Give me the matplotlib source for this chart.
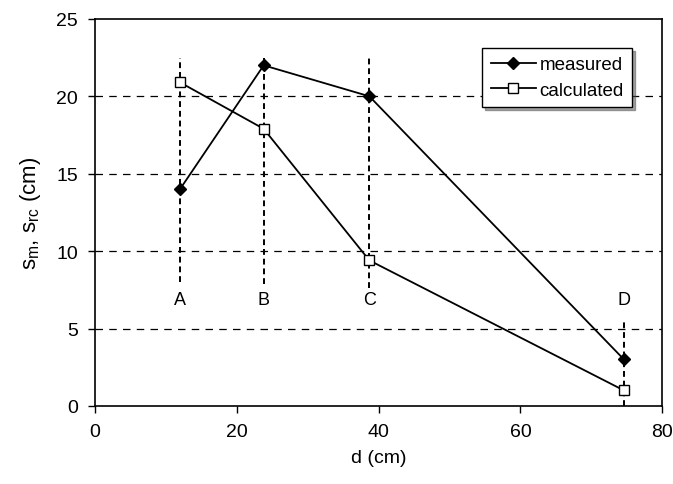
import matplotlib
matplotlib.use("Agg")
import matplotlib.pyplot as plt

plt.rcParams['font.family'] = ['Liberation Sans', 'DejaVu Sans']

d = [12.0, 23.8, 38.7, 74.6]
measured = [14.0, 22.0, 20.0, 3.0]
calculated = [20.9, 17.9, 9.4, 1.0]
labels = ["A", "B", "C", "D"]
vline_bottom = [8.0, 7.9, 7.6, 0.0]
vline_top = [22.5, 22.5, 22.5, 5.6]
label_y = [6.9, 6.9, 6.9, 6.9]

fig = plt.figure(figsize=(6.73, 4.85), dpi=100)
ax = fig.add_axes([0.141, 0.161, 0.843, 0.798])

for y in [5, 10, 15, 20]:
    ax.axhline(y, color='black', lw=0.9, ls=(0, (6, 5)), zorder=1)

for x, lo, hi, lab, ly in zip(d, vline_bottom, vline_top, labels, label_y):
    ax.plot([x, x], [lo, hi], color='black', lw=1.4, ls=(0, (3, 2)), zorder=2)
    ax.text(x, ly, lab, ha='center', va='center', fontsize=13)

ax.plot(d, measured, color='black', lw=1.3, marker='D', ms=6,
        mfc='black', mec='black', label='measured', zorder=4)
ax.plot(d, calculated, color='black', lw=1.3, marker='s', ms=7,
        mfc='white', mec='black', label='calculated', zorder=4)

ax.set_xlim(0, 80)
ax.set_ylim(0, 25)
ax.set_xticks([0, 20, 40, 60, 80])
ax.set_yticks([0, 5, 10, 15, 20, 25])
ax.tick_params(direction='out', length=5, width=1, labelsize=14, pad=7)
ax.set_xlabel('d (cm)', fontsize=14, labelpad=7)
ax.set_ylabel(r'$\mathregular{s_m}$, $\mathregular{s_{rc}}$ (cm)', fontsize=16, labelpad=10)
for s in ax.spines.values():
    s.set_linewidth(1.2)

leg = ax.legend(loc='upper right', bbox_to_anchor=(0.947, 0.925), frameon=True,
                fancybox=False, shadow=True, fontsize=13.5, handlelength=2.4,
                borderpad=0.45, labelspacing=0.45, handletextpad=0.2,
                borderaxespad=0)
leg.get_frame().set_edgecolor('black')
leg.get_frame().set_linewidth(1.0)

fig.savefig('out.png', dpi=100)
